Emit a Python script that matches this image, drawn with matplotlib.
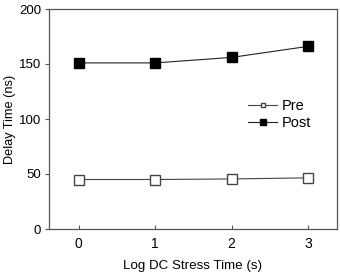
import matplotlib
matplotlib.use('Agg')
import matplotlib.pyplot as plt

plt.rcParams['font.family'] = ['Liberation Sans', 'DejaVu Sans']

# Data
log_time = [0, 1, 2, 3]
pre = [45, 45, 45.5, 46.5]
post = [151, 151, 156, 166]

fig = plt.figure(figsize=(3.4, 2.72), dpi=100)
ax = fig.add_axes([49 / 340, 43 / 272, 288 / 340, 220 / 272])

ax.plot(log_time, pre, color='#444444', lw=0.8, marker='s', ms=6.5,
        mfc='white', mec='#444444', mew=1.0, label='Pre')
ax.plot(log_time, post, color='#222222', lw=0.8, marker='s', ms=7,
        mfc='black', mec='black', label='Post')

ax.set_xlim(-0.39, 3.38)
ax.set_ylim(0, 200)
ax.set_xticks(log_time)
ax.set_yticks([0, 50, 100, 150, 200])
ax.tick_params(axis='x', direction='in', length=3, labelsize=10, pad=6, color='#555555')
ax.tick_params(axis='y', direction='out', length=3, labelsize=9.5, pad=2.5, color='#555555')
for s in ax.spines.values():
    s.set_color('#555555')
    s.set_linewidth(0.9)

ax.set_xlabel('Log DC Stress Time (s)', fontsize=9.6, labelpad=6)
ax.set_ylabel('Delay Time (ns)', fontsize=9.2, labelpad=2)

leg = ax.legend(loc='center right', bbox_to_anchor=(0.93, 0.52), frameon=False,
                fontsize=10.5, markerscale=0.55, handlelength=2.0, handletextpad=0.3,
                labelspacing=0.2, borderaxespad=0)

fig.savefig('out.png', dpi=100)
